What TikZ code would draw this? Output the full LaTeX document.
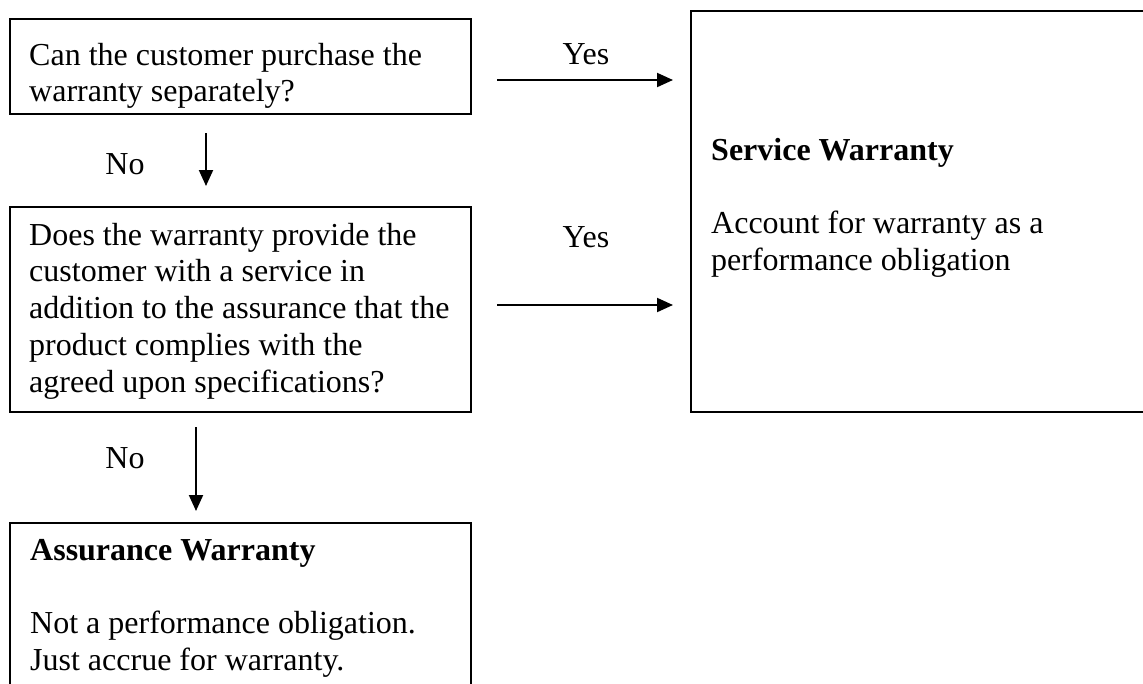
\documentclass[tikz,border=0pt]{standalone}
\usepackage{fontspec}
\setmainfont{Liberation Serif}
\usetikzlibrary{arrows.meta}
% lines stacked on the baseline of the first one
\newcommand\linestack[1]{\begin{tabular}[t]{@{}l@{}}#1\end{tabular}}
\begin{document}
\begin{tikzpicture}[x=1pt,y=-1pt,
  box/.style={draw, line width=2pt, rectangle, anchor=north west, inner sep=0pt},
  txt/.style={font=\fontsize{32}{36.8}\selectfont, inner sep=0pt, anchor=base west},
  lab/.style={font=\fontsize{32}{36.8}\selectfont, inner sep=0pt, anchor=base},
  flow/.style={line width=2pt, -{Triangle[length=16pt,width=14pt]}}]
\useasboundingbox (0,0) rectangle (1143,683);
\clip (0,0) rectangle (1143,683);

% decision and outcome boxes
\node[box, minimum width=461pt, minimum height=95pt]  (q1)  at (9,18)   {};
\node[box, minimum width=461pt, minimum height=205pt] (q2)  at (9,206)  {};
\node[box, minimum width=461pt, minimum height=220pt] (asr) at (9,522)  {};
\node[box, minimum width=470pt, minimum height=401pt] (svc) at (690,9.5) {};

% box texts
\node[txt] (q1t) at (29,65) {\linestack{Can the customer purchase the\\warranty separately?}};
\node[txt] (q2t) at (29,245) {\linestack{Does the warranty provide the\\customer with a service in\\addition to the assurance that the\\product complies with the\\agreed upon specifications?}};
\node[txt] (svct) at (711,160) {\linestack{\textbf{Service Warranty}\\[36.4pt]Account for warranty as a\\performance obligation}};
\node[txt] (asrt) at (30,560) {\linestack{\textbf{Assurance Warranty}\\[36.4pt]Not a performance obligation.\\Just accrue for warranty.}};

% arrow end points
\coordinate (y1s) at (497,80);  \coordinate (y1e) at (673,80);
\coordinate (y2s) at (497,305); \coordinate (y2e) at (673,305);
\coordinate (n1s) at (206,133); \coordinate (n1e) at (206,186);
\coordinate (n2s) at (196,427); \coordinate (n2e) at (196,511);

\draw[flow] (y1s) -- (y1e);
\draw[flow] (y2s) -- (y2e);
\draw[flow] (n1s) -- (n1e);
\draw[flow] (n2s) -- (n2e);

% branch labels
\node[lab] (ly1) at (586,64)  {Yes};
\node[lab] (ly2) at (586,247) {Yes};
\node[lab] (ln1) at (125,174) {No};
\node[lab] (ln2) at (125,468) {No};
\end{tikzpicture}
\end{document}
